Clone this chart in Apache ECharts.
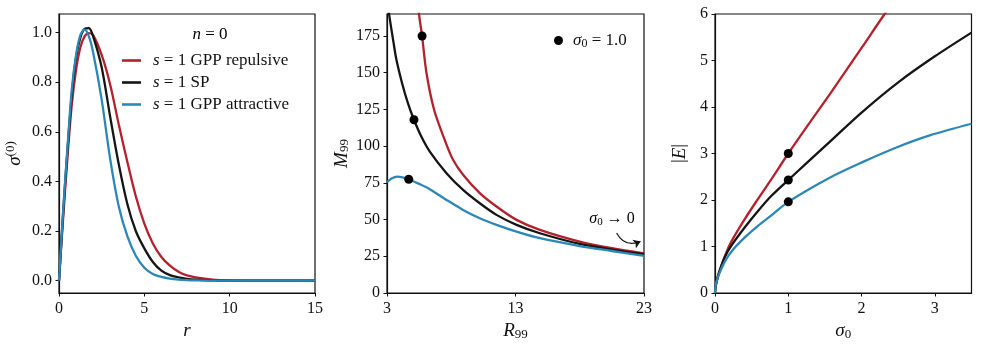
<!DOCTYPE html>
<html>
<head>
<meta charset="utf-8">
<script src="https://cdn.jsdelivr.net/npm/echarts@6/dist/echarts.min.js"></script>
<style>
  html, body { margin: 0; padding: 0; background: #fff; }
  #main { width: 981px; height: 347px; }
</style>
</head>
<body>
<div id="main"></div>
<script>
// panel 1: sigma^(0)(r)
var rVals = [0, 0.25, 0.5, 0.75, 1.0, 1.25, 1.5, 1.75, 2.0, 2.5, 3.0, 3.5, 4.0, 4.5, 5.0, 5.5, 6.0, 6.5, 7.0, 7.5, 8.0, 9.0, 10.0, 12.0, 15.0];
var sigRep = [0, 0.26, 0.50, 0.71, 0.85, 0.94, 0.985, 0.998, 0.99, 0.91, 0.79, 0.63, 0.48, 0.34, 0.23, 0.15, 0.095, 0.06, 0.036, 0.021, 0.013, 0.004, 0.001, 0, 0];
var sigSP  = [0, 0.28, 0.53, 0.75, 0.90, 0.98, 1.015, 1.018, 0.985, 0.86, 0.66, 0.47, 0.31, 0.20, 0.13, 0.075, 0.04, 0.022, 0.013, 0.007, 0.004, 0.001, 0, 0, 0];
var sigAtt = [0, 0.29, 0.54, 0.77, 0.91, 0.99, 1.012, 0.985, 0.92, 0.73, 0.49, 0.30, 0.18, 0.10, 0.052, 0.027, 0.015, 0.008, 0.004, 0.002, 0.001, 0, 0, 0, 0];

// panel 2: M99 vs R99
var repR = [5.40, 5.49, 5.73, 6.07, 6.66, 7.49, 8.14, 8.92, 10.22, 11.52, 13.08, 14.9, 18.0, 20.5, 23.0];
var repM = [200, 190, 175, 150, 125, 104.3, 90.7, 80.5, 68, 58.9, 49.8, 43, 35, 30.5, 27];
var spR  = [3.05, 3.21, 3.5, 3.73, 4.2, 4.64, 5.1, 5.7, 6.33, 7.63, 8.92, 10.22, 11.52, 13.08, 14.9, 18.0, 20.5, 23.0];
var spM  = [197, 187, 171, 159, 142, 129, 118, 106, 96.3, 81.6, 70.2, 61.1, 53.2, 46.4, 40.7, 33.4, 29.6, 26.4];
var attR = [3.0, 3.35, 3.8, 4.2, 4.69, 5.5, 6.33, 7.63, 8.92, 10.22, 11.52, 13.08, 14.9, 18.0, 20.5, 23.0];
var attM = [75.4, 77.9, 79.2, 78.8, 77.5, 74.3, 70.7, 63.4, 56.6, 50.9, 46.4, 41.8, 37.3, 32, 28.6, 25.3];
var dotR = [5.73, 5.10, 4.69];
var dotM = [175, 118, 77.5];
var arrowR = [20.87, 22.73];
var arrowM = [40.9, 35.1];

// panel 3: |E| vs sigma0
var repS = [0, 0.01, 0.046, 0.136, 0.228, 0.41, 0.59, 0.77, 1.0, 1.3, 1.565, 2.0, 2.315, 2.5];
var repE = [0, 0.15, 0.38, 0.80, 1.12, 1.60, 2.03, 2.45, 3.0, 3.68, 4.27, 5.27, 6.0, 6.4];
var spS  = [0, 0.01, 0.046, 0.136, 0.228, 0.41, 0.59, 0.77, 1.0, 1.565, 2.0, 2.5, 3.0, 3.5];
var spE  = [0, 0.16, 0.40, 0.78, 1.03, 1.42, 1.77, 2.09, 2.43, 3.25, 3.88, 4.53, 5.09, 5.60];
var attS = [0, 0.01, 0.046, 0.136, 0.228, 0.41, 0.59, 0.77, 1.0, 1.565, 2.02, 2.475, 2.93, 3.5];
var attE = [0, 0.17, 0.37, 0.68, 0.90, 1.20, 1.45, 1.67, 1.96, 2.48, 2.82, 3.13, 3.39, 3.64];
var dotS = [1, 1, 1];
var dotE = [3.0, 2.43, 1.96];

// ticks
var ticks1x = [0, 5, 10, 15];
var ticks1y = [0, 0.2, 0.4, 0.6, 0.8, 1.0];
var ticks2x = [3, 13, 23];
var ticks2y = [0, 25, 50, 75, 100, 125, 150, 175];
var ticks3x = [0, 1, 2, 3];
var ticks3y = [0, 1, 2, 3, 4, 5, 6];

var names = ['s = 1 GPP repulsive', 's = 1 SP', 's = 1 GPP attractive'];
var colors = ['#b2212c', '#151515', '#2b87b8'];
var dotName = 'σ0 = 1.0';

var FONT = 'Liberation Serif';
var INK = '#111';

function pairs(xs, ys) {
  var out = [];
  for (var i = 0; i < xs.length; i++) out.push([xs[i], ys[i]]);
  return out;
}

function xAxisOf(idx, min, max, ticks, fmt, nameRich) {
  return {
    type: 'value', gridIndex: idx, min: min, max: max,
    name: nameRich, nameLocation: 'middle', nameGap: 24,
    nameTextStyle: { fontFamily: FONT, fontSize: 19, color: INK, rich: richSet(19) },
    axisLine: { show: true, onZero: false, lineStyle: { color: INK, width: 1.2 } },
    axisTick: { show: true, length: 3.5, customValues: ticks, lineStyle: { color: INK, width: 1 } },
    axisLabel: { customValues: ticks, formatter: fmt, margin: 8, fontFamily: FONT, fontSize: 16, color: INK },
    splitLine: { show: false }
  };
}
function yAxisOf(idx, min, max, ticks, fmt, nameRich, gap) {
  return {
    type: 'value', gridIndex: idx, min: min, max: max,
    name: nameRich, nameLocation: 'middle', nameGap: gap,
    nameTextStyle: { fontFamily: FONT, fontSize: 19, color: INK, rich: richSet(19) },
    axisLine: { show: true, onZero: false, lineStyle: { color: INK, width: 1.2 } },
    axisTick: { show: true, length: 3.5, customValues: ticks, lineStyle: { color: INK, width: 1 } },
    axisLabel: { customValues: ticks, formatter: fmt, margin: 7, fontFamily: FONT, fontSize: 16, color: INK },
    splitLine: { show: false }
  };
}
function richSet(size) {
  return {
    i: { fontFamily: FONT, fontStyle: 'italic', fontSize: size, color: INK },
    n: { fontFamily: FONT, fontSize: size, color: INK },
    sub: { fontFamily: FONT, fontSize: Math.round(size * 0.7), color: INK, padding: [6, 0, 0, 0] },
    sup: { fontFamily: FONT, fontSize: Math.round(size * 0.7), color: INK, padding: [0, 0, 9, 0] }
  };
}

function lineSeries(name, data, color, xi) {
  return {
    name: name, type: 'line', xAxisIndex: xi, yAxisIndex: xi,
    data: data, showSymbol: false, smooth: 0.3,
    lineStyle: { color: color, width: 2.3 }, itemStyle: { color: color },
    clip: true, animation: false
  };
}

var series = [];
var p1 = [sigRep, sigSP, sigAtt];
for (var k = 0; k < 3; k++) series.push(lineSeries(names[k], pairs(rVals, p1[k]), colors[k], 0));
series.push(lineSeries(names[0], pairs(repR, repM), colors[0], 1));
series.push(lineSeries(names[1], pairs(spR, spM), colors[1], 1));
series.push(lineSeries(names[2], pairs(attR, attM), colors[2], 1));
series.push({
  name: dotName, type: 'scatter', xAxisIndex: 1, yAxisIndex: 1,
  data: pairs(dotR, dotM), symbolSize: 9, itemStyle: { color: '#000', opacity: 1 }, z: 5, animation: false
});
series.push({
  type: 'lines', coordinateSystem: 'cartesian2d', xAxisIndex: 1, yAxisIndex: 1,
  data: [{ coords: pairs(arrowR, arrowM) }],
  symbol: ['none', 'arrow'], symbolSize: 7,
  lineStyle: { color: INK, width: 1.2, opacity: 1, curveness: -0.45 }, animation: false, silent: true
});
series.push(lineSeries(names[0], pairs(repS, repE), colors[0], 2));
series.push(lineSeries(names[1], pairs(spS, spE), colors[1], 2));
series.push(lineSeries(names[2], pairs(attS, attE), colors[2], 2));
series.push({
  name: dotName, type: 'scatter', xAxisIndex: 2, yAxisIndex: 2,
  data: pairs(dotS, dotE), symbolSize: 9, itemStyle: { color: '#000', opacity: 1 }, z: 5, animation: false
});

var gridBox = { show: true, borderColor: INK, borderWidth: 1.2, backgroundColor: 'transparent' };
var myChart = echarts.init(document.getElementById('main'), null, { renderer: 'canvas' });
var option = {
  animation: false,
  backgroundColor: '#fff',
  grid: [
    Object.assign({ left: 59, right: 666, top: 14, bottom: 54 }, gridBox),
    Object.assign({ left: 387, right: 337, top: 14, bottom: 54 }, gridBox),
    Object.assign({ left: 715, right: 9.5, top: 14, bottom: 54 }, gridBox)
  ],
  xAxis: [
    xAxisOf(0, 0, 15, ticks1x, function (v) { return String(v); }, '{i|r}'),
    xAxisOf(1, 3, 23, ticks2x, function (v) { return String(v); }, '{i|R}{sub|99}'),
    xAxisOf(2, 0, 3.5, ticks3x, function (v) { return String(v); }, '{i|σ}{sub|0}')
  ],
  yAxis: [
    yAxisOf(0, -0.05, 1.075, ticks1y, function (v) { return v.toFixed(1); }, '{i|σ}{sup|(0)}', 33),
    yAxisOf(1, 0, 190, ticks2y, function (v) { return String(v); }, '{i|M}{sub|99}', 36),
    yAxisOf(2, 0, 6, ticks3y, function (v) { return String(v); }, '{n||}{i|E}{n||}', 26)
  ],
  legend: [
    {
      data: names, orient: 'vertical', left: 117, top: 47,
      icon: 'rect', itemWidth: 19, itemHeight: 2.6, itemGap: 5,
      formatter: function (n) { return '{i|s}{n|' + n.slice(1) + '}'; },
      textStyle: { fontFamily: FONT, fontSize: 17, color: INK, lineHeight: 17, padding: [0, 0, 0, 7], rich: richSet(17) },
      selectedMode: false
    },
    {
      data: [{ name: dotName, icon: 'circle' }], left: 549, top: 27,
      itemWidth: 9, itemHeight: 9,
      formatter: function () { return '{i|σ}{sub|0}{n| = 1.0}'; },
      textStyle: { fontFamily: FONT, fontSize: 16, color: INK, padding: [0, 0, 0, 5], rich: richSet(17) },
      selectedMode: false
    }
  ],
  graphic: [
    {
      type: 'text', x: 210, y: 35,
      style: {
        text: '{i|n}{n| = 0}', textAlign: 'center', textVerticalAlign: 'middle',
        rich: richSet(17)
      }
    },
    {
      type: 'text', x: 612, y: 219,
      style: {
        text: '{i|σ}{sub|0}{n| → 0}', textAlign: 'center', textVerticalAlign: 'middle',
        rich: richSet(16)
      }
    }
  ],
  series: series
};
myChart.setOption(option);
</script>
</body>
</html>
